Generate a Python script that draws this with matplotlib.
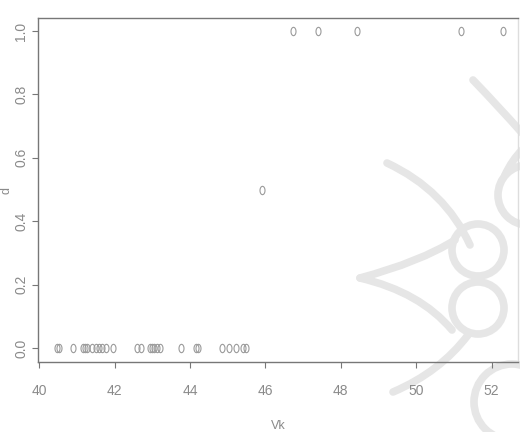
import numpy as np
import matplotlib.pyplot as plt
from matplotlib.path import Path
from matplotlib.patches import PathPatch, Circle

# scanned R-style scatter: points sit on y = 0, one at 0.5, a few at 1
x_zero = [40.48, 40.53, 40.90, 41.17, 41.22, 41.27, 41.41, 41.51, 41.59, 41.67,
          41.78, 41.96, 42.60, 42.71, 42.94, 43.00, 43.05, 43.13, 43.21, 43.77,
          44.16, 44.22, 44.85, 45.04, 45.23, 45.41, 45.49]
x_half = [45.92]
x_one = [46.74, 47.40, 48.43, 51.19, 52.31]

x_ticks = [40, 42, 44, 46, 48, 50, 52]
y_ticks = [0.0, 0.2, 0.4, 0.6, 0.8, 1.0]
y_tick_labels = ["0.0", "0.2", "0.4", "0.6", "0.8", "1.0"]

xs = x_zero + x_half + x_one
ys = [0.0] * len(x_zero) + [0.5] * len(x_half) + [1.0] * len(x_one)

W, H = 520, 432
fig = plt.figure(figsize=(W / 100, H / 100), dpi=100)
fam = ["Liberation Sans Narrow", "Liberation Sans", "DejaVu Sans"]

# faint watermark behind the plot, drawn in pixel coords
bg = fig.add_axes([0, 0, 1, 1], zorder=0)
bg.set_xlim(0, W)
bg.set_ylim(H, 0)
bg.axis("off")
wm = "#e6e6e6"
curves = [
    [(387, 163), (445, 190), (470, 245)],
    [(360, 278), (420, 262), (455, 240)],
    [(360, 278), (420, 292), (452, 330)],
    [(393, 392), (440, 372), (468, 335)],
    [(473, 80), (500, 108), (522, 133)],
    [(505, 175), (512, 160), (522, 150)],
]
for c in curves:
    p = Path(c, [Path.MOVETO, Path.CURVE3, Path.CURVE3])
    bg.add_patch(PathPatch(p, fill=False, lw=5.5, ec=wm, capstyle="round"))
for cx, cy, r in [(478, 250, 26), (478, 308, 26), (528, 195, 30), (512, 402, 38)]:
    bg.add_patch(Circle((cx, cy), r, fill=False, lw=5.5, ec=wm))

ax = fig.add_axes([38 / W, 70 / H, 480 / W, 344 / H], zorder=1)
ax.patch.set_alpha(0)

# slightly tall open ellipse, like the scanned plotting symbol
t = np.linspace(0, 2 * np.pi, 40)
ell = Path(np.column_stack([0.6 * np.cos(t), np.sin(t)]), closed=True)

col = "#8a8a8a"
ax.plot(xs, ys, ls="none", marker=ell, ms=6, mfc="none", mec="#9a9a9a", mew=0.8)

ax.set_xlim(39.97, 52.7)
ax.set_ylim(-0.044, 1.041)
ax.set_xticks(x_ticks)
ax.set_yticks(y_ticks)
ax.set_yticklabels(y_tick_labels, rotation=90, va="center")

for s in ax.spines.values():
    s.set_color("#777777")
    s.set_linewidth(1.0)
ax.spines["right"].set_color("#dddddd")

ax.tick_params(direction="out", length=4, width=0.8, color="#777777",
               labelcolor=col, labelsize=10)
ax.tick_params(axis="x", pad=12)
ax.tick_params(axis="y", pad=3)
for lab in ax.get_xticklabels() + ax.get_yticklabels():
    lab.set_family(fam)

ax.set_xlabel("Vk", color=col, fontsize=9, labelpad=16, family=fam)
ax.set_ylabel("d", color=col, fontsize=9, labelpad=1, family=fam)

fig.savefig("out.png", dpi=100)
